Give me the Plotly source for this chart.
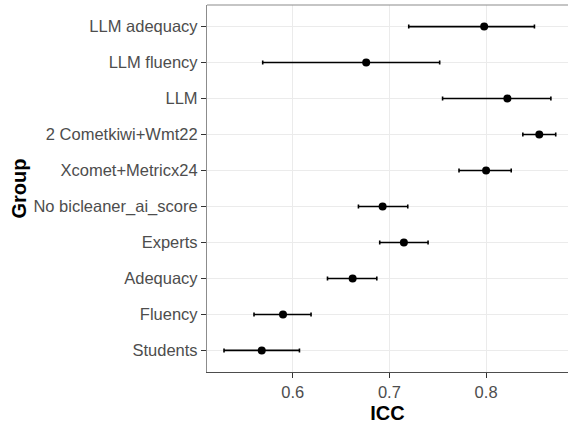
import plotly.graph_objects as go

groups = ["Students", "Fluency", "Adequacy", "Experts", "No bicleaner_ai_score",
          "Xcomet+Metricx24", "2 Cometkiwi+Wmt22", "LLM", "LLM fluency", "LLM adequacy"]
icc = [0.568, 0.590, 0.662, 0.715, 0.693, 0.800, 0.855, 0.822, 0.676, 0.798]
lower = [0.529, 0.560, 0.636, 0.690, 0.668, 0.772, 0.838, 0.755, 0.569, 0.720]
upper = [0.607, 0.619, 0.687, 0.740, 0.719, 0.826, 0.872, 0.867, 0.752, 0.850]
x_ticks = [0.6, 0.7, 0.8]

err_plus = [u - c for u, c in zip(upper, icc)]
err_minus = [c - l for c, l in zip(icc, lower)]

font = "Liberation Sans, Arial, sans-serif"

fig = go.Figure()
fig.add_trace(go.Scatter(
    x=icc, y=groups, mode="markers",
    marker=dict(color="black", size=8),
    error_x=dict(type="data", symmetric=False, array=err_plus, arrayminus=err_minus,
                 color="black", thickness=1.6, width=2),
    showlegend=False,
))

# top panel border
fig.add_shape(type="line", xref="paper", yref="paper", x0=0, x1=1, y0=1, y1=1,
              line=dict(color="#8C8C8C", width=1.2))

fig.update_layout(
    width=568, height=424,
    margin=dict(l=207, r=0, t=5, b=52, autoexpand=False),
    paper_bgcolor="white", plot_bgcolor="white",
    font=dict(family=font, size=16, color="#4D4D4D"),
    xaxis=dict(
        range=[0.5114, 0.8847], tickvals=x_ticks, ticktext=[str(t) for t in x_ticks],
        showgrid=True, gridcolor="#EBEBEB", gridwidth=1.3, zeroline=False,
        showline=True, linecolor="#4D4D4D", linewidth=1.2, mirror=False,
        ticks="outside", ticklen=5, tickcolor="#333333", tickwidth=1,
        tickfont=dict(size=16.5, color="#4D4D4D"),
        title=dict(text="<b>ICC</b>", font=dict(size=20, color="black"), standoff=6),
    ),
    yaxis=dict(
        type="category", categoryorder="array", categoryarray=groups,
        range=[-0.6, 9.6],
        showgrid=True, gridcolor="#EBEBEB", gridwidth=1.3, zeroline=False,
        showline=True, linecolor="#8C8C8C", linewidth=1.2, mirror=False,
        ticks="outside", ticklen=5, tickcolor="#333333", tickwidth=1,
        tickfont=dict(size=16.5, color="#4D4D4D"),
        title=dict(text="<b>Group</b>", font=dict(size=20, color="black"), standoff=1),
    ),
)

fig.write_html("out.html", config={"displayModeBar": False},
               post_script="document.body.style.margin='0';document.body.style.padding='0';")
